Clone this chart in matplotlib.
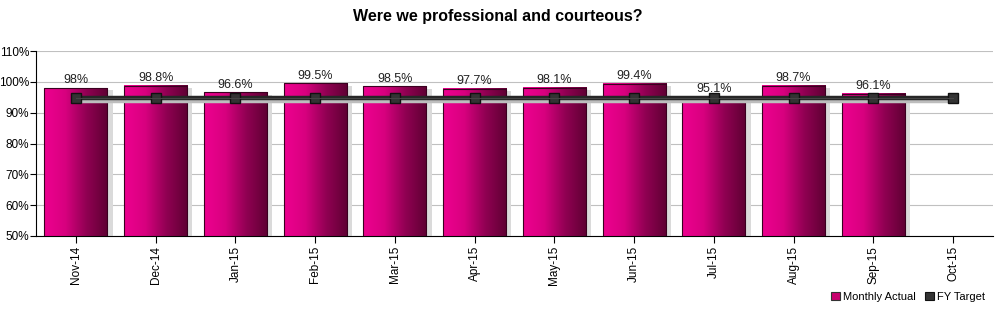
import matplotlib
matplotlib.use("Agg")
import matplotlib.pyplot as plt
import numpy as np
from matplotlib.colors import LinearSegmentedColormap
from matplotlib.patches import Rectangle

categories = ["Nov-14", "Dec-14", "Jan-15", "Feb-15", "Mar-15", "Apr-15",
              "May-15", "Jun-15", "Jul-15", "Aug-15", "Sep-15", "Oct-15"]
actual = [98.0, 98.8, 96.6, 99.5, 98.5, 97.7, 98.1, 99.4, 95.1, 98.7, 96.1, None]
actual_labels = ["98%", "98.8%", "96.6%", "99.5%", "98.5%", "97.7%", "98.1%",
                 "99.4%", "95.1%", "98.7%", "96.1%", ""]
target = [94.7] * 12
yticks = [50, 60, 70, 80, 90, 100, 110]

plt.rcParams['font.family'] = ['Liberation Sans', 'DejaVu Sans']
fig = plt.figure(figsize=(10, 3.12), dpi=100)
ax = fig.add_axes([0.036, 0.2436, 0.957, 0.5929])
ax.set_xlim(-0.5, 11.5)
ax.set_ylim(50, 110)

cmap = LinearSegmentedColormap.from_list("pk", ["#ee0090", "#d8007f", "#900052", "#5e0032"])
grad = np.linspace(0, 1, 256).reshape(1, -1)
bw = 0.79
for i, v in enumerate(actual):
    if v is None:
        continue
    x0 = i - bw / 2
    # shadow
    ax.add_patch(Rectangle((x0 + 0.065, 50), bw, v - 50 - 0.8, facecolor="#dadada",
                           edgecolor="none", zorder=2))
    ax.imshow(grad, cmap=cmap, aspect="auto", extent=(x0, x0 + bw, 50, v),
              zorder=3, interpolation="bilinear")
    ax.add_patch(Rectangle((x0, 50), bw, v - 50, facecolor="none",
                           edgecolor="#3a0020", linewidth=0.8, zorder=4))
    ax.text(i, v + 0.5, actual_labels[i], ha="center", va="bottom", fontsize=9,
            color="#222222", zorder=6)

xs = np.arange(len(categories))
# target shadow
ax.plot(xs + 0.06, np.array(target) - 1.0, color="#bdbdbd", linewidth=2.5, zorder=4.5,
        solid_capstyle="butt")
ax.plot(xs, target, color="#262626", linewidth=3.2, zorder=5, marker="s",
        markersize=7, markerfacecolor="#333333", markeredgecolor="#111111")
ax.plot(xs, target, color="#444444", linewidth=0.8, zorder=5.1)

ax.set_xlim(-0.5, 11.5)
ax.set_ylim(50, 110)
ax.set_yticks(yticks)
ax.set_yticklabels([f"{t}%" for t in yticks], fontsize=8.5)
ax.set_xticks(xs)
ax.set_xticklabels(categories, rotation=90, fontsize=8.5)
ax.yaxis.grid(True, color="#c0c0c0", linewidth=0.8, zorder=0)
ax.set_axisbelow(True)
for s in ["top", "right"]:
    ax.spines[s].set_visible(False)
ax.spines["left"].set_color("#000000")
ax.spines["bottom"].set_color("#000000")
ax.tick_params(axis="y", direction="out", length=4, width=0.8, pad=1)
ax.tick_params(axis="x", direction="out", length=5, width=0.8, pad=2)

fig.suptitle("Were we professional and courteous?", fontsize=11.5, fontweight="bold",
             x=0.498, y=0.97)

handles = [Rectangle((0, 0), 1, 1, facecolor="#c8006e", edgecolor="#333333", linewidth=0.8),
           Rectangle((0, 0), 1, 1, facecolor="#333333", edgecolor="#111111", linewidth=0.8)]
fig.legend(handles, ["Monthly Actual", "FY Target"], loc="lower right",
           bbox_to_anchor=(0.995, 0.0), ncol=2, frameon=False, fontsize=8,
           handlelength=0.8, handleheight=0.8, handletextpad=0.3, columnspacing=0.8)

fig.savefig("out.png", dpi=100)
